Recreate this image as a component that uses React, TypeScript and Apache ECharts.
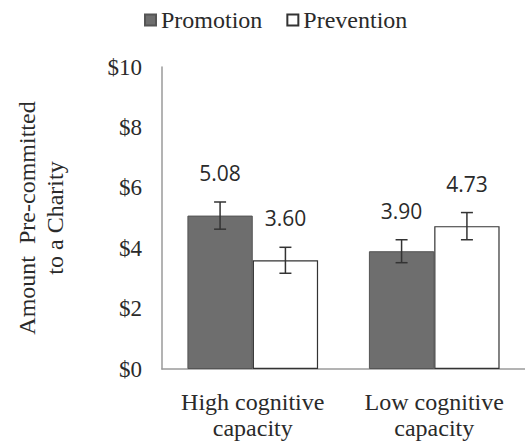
import React, { useEffect, useRef } from "react";
import * as echarts from "echarts";

const categories = ["High cognitive\ncapacity", "Low cognitive\ncapacity"];
const seriesNames = ["Promotion", "Prevention"];
const promotion = [5.08, 3.9];
const prevention = [3.6, 4.73];
const promotionErr = [0.45, 0.38];
const preventionErr = [0.43, 0.45];
const yTicks = { min: 0, max: 10, interval: 2 };

const SERIF = "'Liberation Serif', 'Times New Roman', serif";
const TEXT = "#2a2a2a";

export default function App() {
  const ref = useRef<HTMLDivElement>(null);
  useEffect(() => {
    if (!ref.current) return;
    const chart = echarts.init(ref.current, null, { renderer: "svg" });
    const errData: any[] = [];
    [promotion, prevention].forEach((vals, s) => {
      const errs = s === 0 ? promotionErr : preventionErr;
      vals.forEach((v, i) => errData.push([i, s, v, errs[i]]));
    });
    const option: any = {
      animation: false,
      textStyle: { fontFamily: SERIF, color: TEXT },
      legend: {
        data: seriesNames,
        left: 139,
        top: 3,
        icon: "rect",
        itemWidth: 11,
        itemHeight: 11,
        itemGap: 24,
        textStyle: { fontFamily: SERIF, fontSize: 24, color: TEXT },
      },
      grid: { left: 162, right: -10, top: 67, bottom: 72 },
      xAxis: {
        type: "category",
        data: categories,
        axisLine: { lineStyle: { color: "#9a9a9a", width: 1.5 } },
        axisTick: { show: false },
        axisLabel: {
          fontFamily: SERIF,
          fontSize: 24,
          lineHeight: 26,
          color: TEXT,
          margin: 20,
          interval: 0,
        },
      },
      yAxis: {
        type: "value",
        min: yTicks.min,
        max: yTicks.max,
        interval: yTicks.interval,
        name: "Amount  Pre-committed\nto a Charity",
        nameLocation: "middle",
        nameRotate: 90,
        nameGap: 93,
        nameTextStyle: { fontFamily: SERIF, fontSize: 24, lineHeight: 28, color: TEXT },
        axisLine: { show: true, lineStyle: { color: "#9a9a9a", width: 1.5 } },
        axisTick: { show: false },
        splitLine: { show: false },
        axisLabel: {
          fontFamily: SERIF,
          fontSize: 23,
          color: TEXT,
          margin: 20,
          formatter: (v: number) => "$" + v,
        },
      },
      series: [
        {
          name: seriesNames[0],
          type: "bar",
          data: promotion,
          barGap: "0%",
          barCategoryGap: "28%",
          itemStyle: { color: "#6e6e6e", borderColor: "#555555", borderWidth: 1 },
        },
        {
          name: seriesNames[1],
          type: "bar",
          data: prevention,
          barGap: "0%",
          barCategoryGap: "28%",
          itemStyle: { color: "#ffffff", borderColor: "#333333", borderWidth: 1.2 },
        },
        {
          name: "err",
          type: "custom",
          data: errData,
          encode: { x: 0, y: 2 },
          z: 10,
          renderItem: (params: any, api: any) => {
            const cat = api.value(0);
            const s = api.value(1);
            const v = api.value(2);
            const e = api.value(3);
            const catW = api.size([1, 0])[0];
            const barW = (catW * 0.72) / 2;
            const c = api.coord([cat, v]);
            const x = c[0] + (s === 0 ? -barW / 2 : barW / 2);
            const hi = api.coord([cat, v + e])[1];
            const lo = api.coord([cat, v - e])[1];
            const cap = 6;
            const ls = { stroke: "#333333", lineWidth: 1.5 };
            return {
              type: "group",
              children: [
                { type: "line", shape: { x1: x, y1: hi, x2: x, y2: lo }, style: ls },
                { type: "line", shape: { x1: x - cap, y1: hi, x2: x + cap, y2: hi }, style: ls },
                { type: "line", shape: { x1: x - cap, y1: lo, x2: x + cap, y2: lo }, style: ls },
                {
                  type: "text",
                  x: x,
                  y: hi - 29,
                  style: {
                    text: v.toFixed(2),
                    fontFamily: "'Open Sans', sans-serif",
                    fontSize: 21,
                    fill: TEXT,
                    textAlign: "center",
                    textVerticalAlign: "middle",
                  },
                },
              ],
            };
          },
        },
      ],
    };
    chart.setOption(option);
    return () => chart.dispose();
  }, []);
  return (
    <div
      ref={ref}
      style={{ position: "absolute", left: 0, top: 0, width: 525, height: 441, background: "#fff" }}
    />
  );
}
